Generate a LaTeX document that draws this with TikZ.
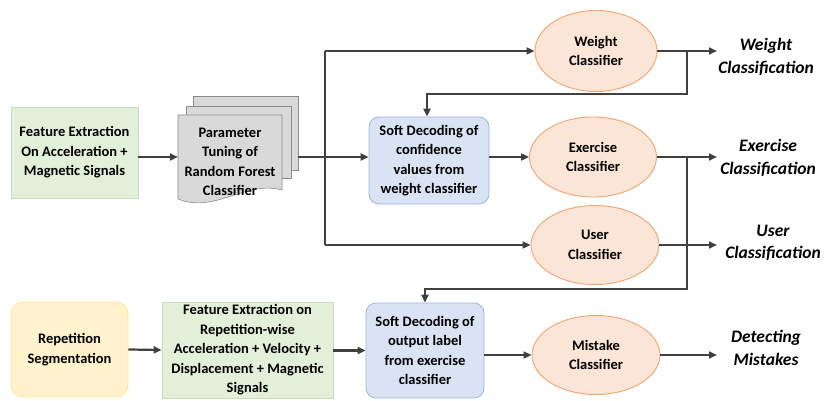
\documentclass[tikz,border=0pt]{standalone}
\usepackage{fontspec}
\setmainfont{Carlito}
\usetikzlibrary{arrows.meta,shapes.geometric}

\definecolor{lineC}{HTML}{404040}
\definecolor{greenF}{HTML}{E2F0D9}
\definecolor{greenD}{HTML}{C5E0B4}
\definecolor{yelF}{HTML}{FFF2CC}
\definecolor{yelD}{HTML}{FFE699}
\definecolor{blueF}{HTML}{DAE3F3}
\definecolor{blueD}{HTML}{9DB5E0}
\definecolor{orF}{HTML}{FBE5D6}
\definecolor{orD}{HTML}{F2A46E}
\definecolor{docF}{HTML}{D9D9D9}
\definecolor{docD}{HTML}{8C8C8C}

\tikzset{
  txt/.style={font=\fontsize{14.5}{19.5}\selectfont\bfseries, align=center, text=black},
  featbox/.style={txt, draw=greenD, fill=greenF, line width=0.8pt, inner sep=0pt},
  segbox/.style={txt, draw=yelD, fill=yelF, line width=0.8pt, rounded corners=12pt, inner sep=0pt},
  softbox/.style={txt, draw=blueD, fill=blueF, line width=0.8pt, rounded corners=10pt, inner sep=0pt},
  clf/.style={txt, ellipse, draw=orD, fill=orF, line width=0.9pt, inner sep=0pt},
  outlbl/.style={font=\fontsize{17.5}{22.5}\selectfont\bfseries\itshape, align=center, text=black},
  page/.style={draw=docD, fill=docF, line width=0.6pt},
  flow/.style={draw=lineC, line width=2.2pt, -{Triangle[length=8pt,width=7pt]}},
  wire/.style={draw=lineC, line width=2.2pt},
}

\begin{document}
\begin{tikzpicture}[x=1pt,y=-1pt]
\useasboundingbox (0,0) rectangle (835,401);

% stacked documents of the tuning stage
\path[page] (193,96) rectangle (298,170);
\path[page] (186,106) rectangle (291,178);
\path[page] (178,115) -- (282,115) -- (282,190)
  .. controls (245,180) and (215,214) .. (178,199) -- cycle;

% process boxes
\node[featbox, minimum width=127pt, minimum height=91pt] (fe1) at (74.5,152.5)
  {Feature Extraction\\On Acceleration +\\Magnetic Signals};
\node[txt] (tune) at (230,162) {Parameter\\Tuning of\\Random Forest\\Classifier};
\coordinate (tuneL) at (178,157);
\coordinate (tuneR) at (298,157);

\node[softbox, minimum width=120pt, minimum height=87pt] (soft1) at (429,160.5)
  {Soft Decoding of\\confidence\\values from\\weight classifier};
\node[softbox, minimum width=118pt, minimum height=95pt] (soft2) at (425,350.5)
  {Soft Decoding of\\output label\\from exercise\\classifier};

\node[segbox, minimum width=117pt, minimum height=95pt] (seg) at (69.5,349.5)
  {Repetition\\Segmentation};
\node[featbox, minimum width=171pt, minimum height=96pt] (fe2) at (247.5,350)
  {Feature Extraction on\\Repetition-wise\\Acceleration + Velocity +\\Displacement + Magnetic\\Signals};

% classifiers
\node[clf, minimum width=122pt, minimum height=81pt] (wcl) at (596,51) {Weight\\Classifier};
\node[clf, minimum width=127pt, minimum height=80pt] (ecl) at (593,157) {Exercise\\Classifier};
\node[clf, minimum width=128pt, minimum height=79pt] (ucl) at (595,245) {User\\Classifier};
\node[clf, minimum width=128pt, minimum height=79pt] (mcl) at (596,355) {Mistake\\Classifier};

% outputs
\coordinate (wout) at (717,51);
\coordinate (eout) at (717,157);
\coordinate (uout) at (717,245);
\coordinate (mout) at (717,355);
\node[outlbl] (wlbl) at (766,57) {Weight\\Classification};
\node[outlbl] (elbl) at (768,158) {Exercise\\Classification};
\node[outlbl] (ulbl) at (773,243) {User\\Classification};
\node[outlbl] (mlbl) at (766,348) {Detecting\\Mistakes};

% branching points
\coordinate (split) at (325,157);
\coordinate (wtap) at (687,51);
\coordinate (etap) at (687,157);
\coordinate (wfb) at (427,94);
\coordinate (efb) at (425,289);

% connectors
\draw[flow] (fe1.east |- tuneL) -- (tuneL);
\draw[flow] (tuneR) -- (soft1.west |- tuneR);
\draw[wire] (split |- wcl.west) -- (split |- ucl.west);
\draw[flow] (split |- wcl.west) -- (wcl.west);
\draw[flow] (split |- ucl.west) -- (ucl.west);
\draw[flow] (soft1.east |- ecl.west) -- (ecl.west);

\draw[flow] (wcl.east) -- (wout);
\draw[flow] (ecl.east) -- (eout);
\draw[flow] (ucl.east) -- (uout);
\draw[flow] (mcl.east) -- (mout);

\draw[flow] (wtap) -- (wtap |- wfb) -- (wfb) -- (soft1.north -| wfb);
\draw[flow] (etap) -- (etap |- efb) -- (efb) -- (soft2.north -| efb);

\draw[flow] (seg.east) -- (fe2.west);
\draw[flow] (fe2.east |- soft2.west) -- (soft2.west);
\draw[flow] (soft2.east |- mcl.west) -- (mcl.west);
\end{tikzpicture}
\end{document}
